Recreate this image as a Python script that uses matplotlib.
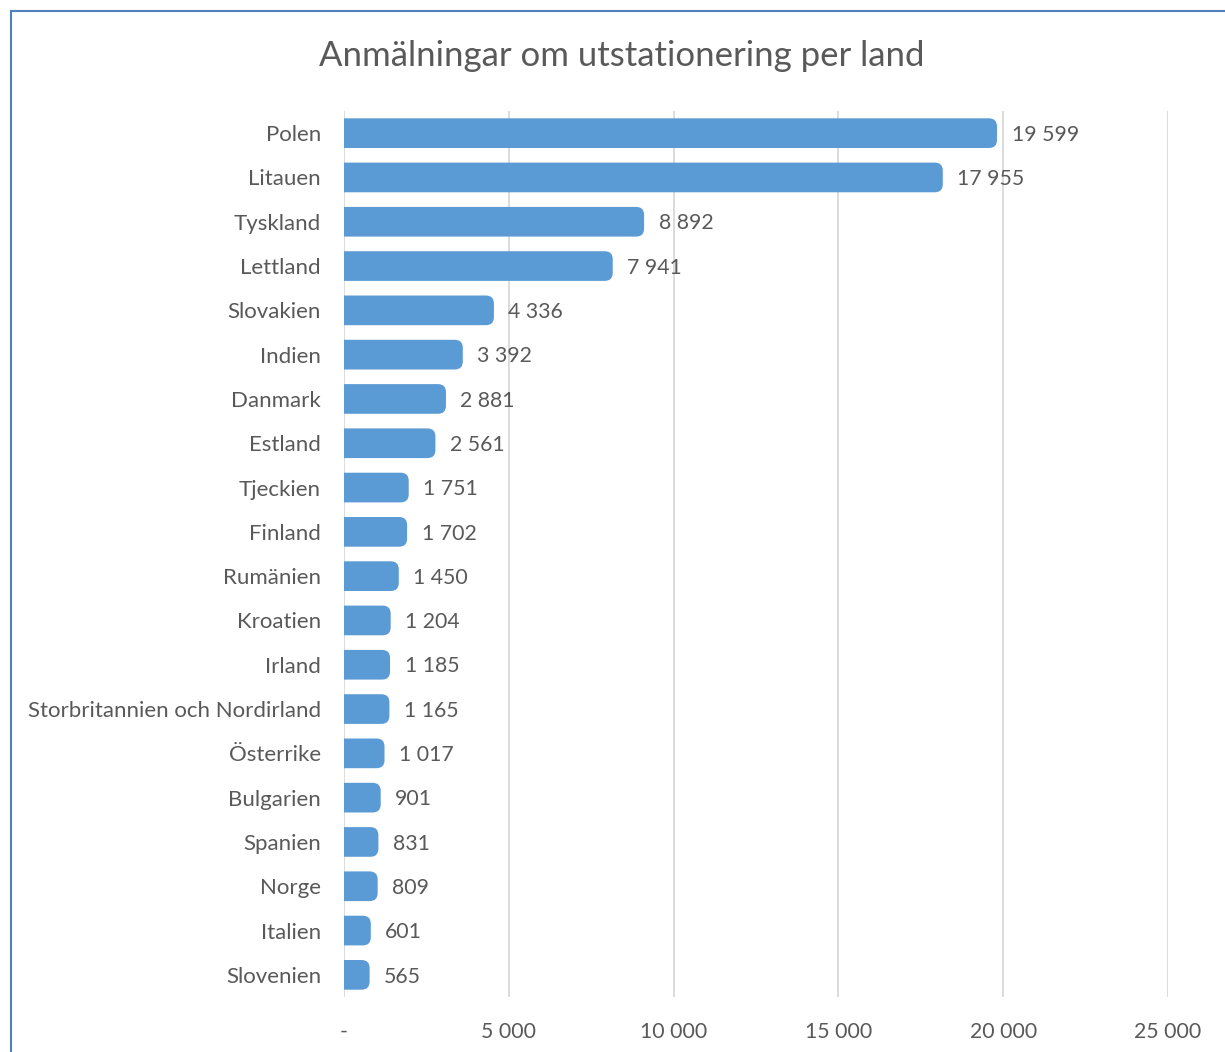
import matplotlib
matplotlib.use("Agg")
import matplotlib.pyplot as plt
from matplotlib.patches import FancyBboxPatch
from matplotlib.lines import Line2D
from matplotlib.ticker import FuncFormatter

countries = ["Polen", "Litauen", "Tyskland", "Lettland", "Slovakien", "Indien",
             "Danmark", "Estland", "Tjeckien", "Finland", "Rumänien", "Kroatien",
             "Irland", "Storbritannien och Nordirland", "Österrike", "Bulgarien",
             "Spanien", "Norge", "Italien", "Slovenien"]
values = [19599, 17955, 8892, 7941, 4336, 3392, 2881, 2561, 1751, 1702, 1450,
          1204, 1185, 1165, 1017, 901, 831, 809, 601, 565]
xticks = [0, 5000, 10000, 15000, 20000, 25000]
title = "Anmälningar om utstationering per land"

plt.rcParams['font.family'] = ['Lato', 'DejaVu Sans']
TXT = "#595959"
BAR = "#5B9BD5"
GRID = "#D9D9D9"

fig = plt.figure(figsize=(12.25, 10.52), dpi=100)
ax = fig.add_axes([344/1225, 55/1052, 824/1225, 886/1052])

def fmt(v):
    return f"{int(v):,}".replace(",", " ")

ypos = list(range(len(countries)))
bars = ax.barh(ypos, values, height=0.67, color=BAR, zorder=3)

# replace rectangles with right-rounded bars (slight visual overhang like the original)
px = 25000 / 824
rx = 8 * px
ry = 8 / 44.3
extra = 7 * px
for b in bars:
    x0, y0, w, h = b.get_x(), b.get_y(), b.get_width(), b.get_height()
    b.set_visible(False)
    p = FancyBboxPatch((x0 - 3 * rx, y0), w + 3 * rx + extra, h,
                       boxstyle=f"round,pad=0,rounding_size={rx}",
                       mutation_aspect=ry / rx, facecolor=BAR, edgecolor="none",
                       zorder=3)
    ax.add_patch(p)
    p.set_clip_path(ax.patch)

for y, v in zip(ypos, values):
    ax.annotate(fmt(v), (v, y), xytext=(15.5, -1.2), textcoords="offset points",
                va="center", ha="left", fontsize=15.3, color=TXT)

ax.set_xlim(0, 25000)
ax.set_ylim(len(countries) - 0.5, -0.5)
ax.set_xticks(xticks)
ax.xaxis.set_major_formatter(FuncFormatter(lambda v, p: "-" if v == 0 else fmt(v)))
ax.set_yticks(ypos)
ax.set_yticklabels(countries)
ax.tick_params(axis="both", length=0, colors=TXT)
ax.tick_params(axis="y", pad=16.5, labelsize=16)
ax.tick_params(axis="x", pad=18, labelsize=15.3)
ax.grid(axis="x", color=GRID, linewidth=1.3, zorder=0)
for s in ax.spines.values():
    s.set_visible(False)

fig.text(622/1225, 1 - 56/1052, title, ha="center", va="center",
         fontsize=25, color=TXT)

# chart border (top and left visible)
bc = "#4F81BD"
fig.add_artist(Line2D([11/1225, 11/1225], [0, 1 - 11/1052], transform=fig.transFigure,
                      color=bc, linewidth=1.5))
fig.add_artist(Line2D([11/1225, 1], [1 - 11/1052, 1 - 11/1052], transform=fig.transFigure,
                      color=bc, linewidth=1.5))

fig.savefig("out.png", dpi=100)
